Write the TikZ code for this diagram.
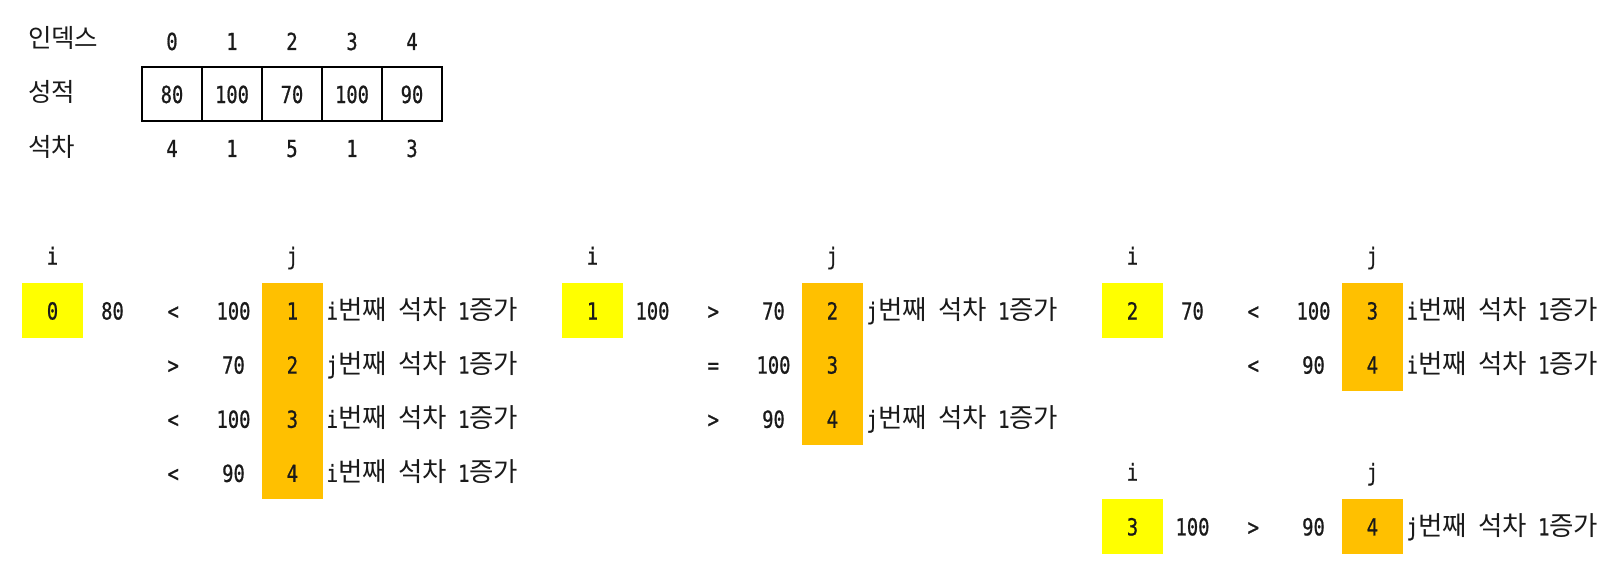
\documentclass[tikz,border=0pt]{standalone}
\usepackage{fontspec}
\newfontfamily\numfont[FakeStretch=0.8,FakeBold=0.8]{DejaVu Sans Mono}
\newfontfamily\krfont{Noto Sans CJK KR}
\newcommand\mynum{\numfont\fontsize{23.5}{23.5}\selectfont}
\newcommand\mykr{\krfont\fontsize{26.5}{26.5}\selectfont}
\newcommand\myhkr{\krfont\fontsize{25.5}{25.5}\selectfont}
\newcommand\steplbl[1]{{\mynum #1}{\mykr 번째}{\mynum\ }{\mykr 석차}{\mynum\ 1}{\mykr 증가}}
\definecolor{iyellow}{HTML}{FFFF00}
\definecolor{jorange}{HTML}{FFC000}
\definecolor{ink}{HTML}{1A1A1A}
\newcommand\cmprow[6]{% prefix, dx, baseline, op, value, j
  \node[num] (#1op) at (#2+173.3,#3) {#4};
  \node[num] (#1v) at (#2+233.5,#3) {#5};
  \node[num] (#1j) at (#2+292.4,#3) {#6};
}
\newcommand\cmplbl[4]{% prefix, dx, baseline, letter
  \node[anchor=base west] (#1t) at (#2+326.7,#3) {\steplbl{#4}};
}
\begin{document}
\begin{tikzpicture}[x=1pt,y=-1pt,
  every node/.style={inner sep=0pt, outer sep=0pt, text=ink},
  num/.style={font=\mynum, anchor=base},
  kr/.style={font=\myhkr, anchor=base west},
  cell/.style={draw=black, line width=1.3pt, minimum width=60pt, minimum height=54pt},
  ibox/.style={fill=iyellow, minimum width=61pt, minimum height=54.8pt},
  jcol/.style={fill=jorange, minimum width=61pt, anchor=north}]
\useasboundingbox (0,0) rectangle (1621,575);

% ---------- top table ----------
\node[kr] (hidx) at (28,48) {인덱스};
\node[kr] (hscore) at (28,102) {성적};
\node[kr] (hrank) at (28,156) {석차};
\foreach \k/\s/\r in {0/80/4,1/100/1,2/70/5,3/100/1,4/90/3}{
  \node[num] (idx\k) at (172+60*\k,50) {\k};
  \node[cell] (cell\k) at (172+60*\k,94) {};
  \node[num] (sc\k) at (172+60*\k,103) {\s};
  \node[num] (rk\k) at (172+60*\k,157) {\r};
}

% ---------- group 0 ----------
\node[num] (g0i) at (52.5,264.5) {i};
\node[num] (g0jl) at (292.4,264.5) {j};
\node[ibox] (g0box) at (52.2,310.2) {};
\node[num] (g0in) at (52.5,319.5) {0};
\node[num] (g0iv) at (112.5,319.5) {80};
\node[jcol, minimum height=216.6pt] (g0col) at (292.2,282.7) {};
\cmprow{g0a}{0}{319.5}{<}{100}{1}\cmplbl{g0a}{0}{319.5}{i}
\cmprow{g0b}{0}{373.6}{>}{70}{2}\cmplbl{g0b}{0}{373.6}{j}
\cmprow{g0c}{0}{427.8}{<}{100}{3}\cmplbl{g0c}{0}{427.8}{i}
\cmprow{g0d}{0}{481.9}{<}{90}{4}\cmplbl{g0d}{0}{481.9}{i}

% ---------- group 1 ----------
\node[num] (g1i) at (592.5,264.5) {i};
\node[num] (g1jl) at (832.4,264.5) {j};
\node[ibox] (g1box) at (592.2,310.2) {};
\node[num] (g1in) at (592.5,319.5) {1};
\node[num] (g1iv) at (652.5,319.5) {100};
\node[jcol, minimum height=162.45pt] (g1col) at (832.2,282.7) {};
\cmprow{g1a}{540}{319.5}{>}{70}{2}\cmplbl{g1a}{540}{319.5}{j}
\cmprow{g1b}{540}{373.6}{=}{100}{3}
\cmprow{g1c}{540}{427.8}{>}{90}{4}\cmplbl{g1c}{540}{427.8}{j}

% ---------- group 2 ----------
\node[num] (g2i) at (1132.5,264.5) {i};
\node[num] (g2jl) at (1372.4,264.5) {j};
\node[ibox] (g2box) at (1132.2,310.2) {};
\node[num] (g2in) at (1132.5,319.5) {2};
\node[num] (g2iv) at (1192.5,319.5) {70};
\node[jcol, minimum height=108.3pt] (g2col) at (1372.2,282.7) {};
\cmprow{g2a}{1080}{319.5}{<}{100}{3}\cmplbl{g2a}{1080}{319.5}{i}
\cmprow{g2b}{1080}{373.6}{<}{90}{4}\cmplbl{g2b}{1080}{373.6}{i}

% ---------- group 3 ----------
\node[num] (g3i) at (1132.5,480.7) {i};
\node[num] (g3jl) at (1372.4,480.7) {j};
\node[ibox] (g3box) at (1132.2,526.4) {};
\node[num] (g3in) at (1132.5,535.4) {3};
\node[num] (g3iv) at (1192.5,535.4) {100};
\node[jcol, minimum height=54.7pt] (g3col) at (1372.2,499) {};
\cmprow{g3a}{1080}{535.4}{>}{90}{4}\cmplbl{g3a}{1080}{535.4}{j}
\end{tikzpicture}
\end{document}
